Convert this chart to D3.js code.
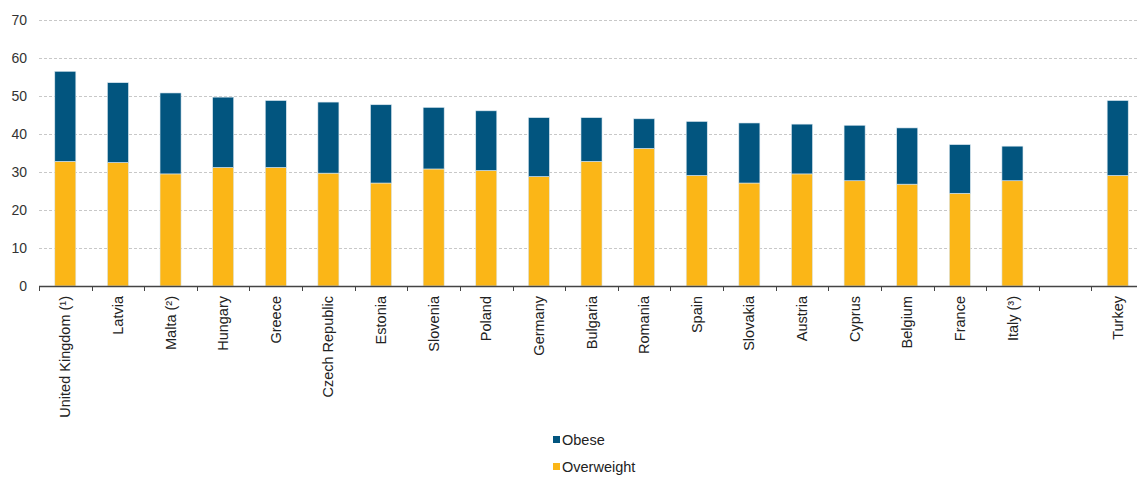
<!DOCTYPE html>
<html>
<head>
<meta charset="utf-8">
<script src="https://cdn.jsdelivr.net/npm/d3@7/dist/d3.min.js"></script>
<style>
  html, body { margin: 0; padding: 0; background: #fff; }
  svg { display: block; font-family: "Liberation Sans", Arial, sans-serif; }
</style>
</head>
<body>
<svg id="chart" width="1137" height="477"></svg>
<script>
// Share of adults by body mass index category (%)
const categories = [
  "United Kingdom (¹)", "Latvia", "Malta (²)", "Hungary", "Greece", "Czech Republic",
  "Estonia", "Slovenia", "Poland", "Germany", "Bulgaria", "Romania", "Spain",
  "Slovakia", "Austria", "Cyprus", "Belgium", "France", "Italy (³)", "", "Turkey"
];
const overweight = [32.8, 32.5, 29.5, 31.2, 31.2, 29.7, 27.1, 30.8, 30.4, 28.8, 32.8, 36.2, 29.1,
                    27.1, 29.5, 27.7, 26.8, 24.4, 27.7, null, 29.1];
const obese      = [23.7, 21.0, 21.3, 18.5, 17.6, 18.7, 20.6, 16.2, 15.7, 15.5, 11.5,  7.8, 14.2,
                    15.8, 13.1, 14.6, 14.8, 12.8,  9.1, null, 19.7];
const yTicks = [0, 10, 20, 30, 40, 50, 60, 70];
const seriesNames = ["Obese", "Overweight"];
const colors = { Obese: "#02557f", Overweight: "#fbb617" };

const svg = d3.select("#chart");
const margin = { left: 39, top: 20, bottom: 191 };
const plotRight = 1144;
const height = 477;

const x = d3.scaleBand()
  .domain(d3.range(categories.length))
  .range([margin.left, plotRight])
  .paddingInner(0).paddingOuter(0);

const y = d3.scaleLinear()
  .domain([0, 70])
  .range([height - margin.bottom, margin.top]);

// Horizontal grid lines
svg.append("g")
  .selectAll("line")
  .data(yTicks.filter(d => d > 0))
  .join("line")
  .attr("x1", margin.left)
  .attr("x2", plotRight)
  .attr("y1", d => Math.round(y(d)) + 0.5)
  .attr("y2", d => Math.round(y(d)) + 0.5)
  .attr("stroke", "#c8c8c8")
  .attr("stroke-width", 1)
  .attr("stroke-dasharray", "3,2");

// Y axis labels
const yAxis = d3.axisLeft(y).tickValues(yTicks).tickSize(0).tickPadding(12);
const yg = svg.append("g").attr("transform", `translate(${margin.left},0)`).call(yAxis);
yg.select(".domain").remove();
yg.selectAll("text").attr("font-size", 14).attr("fill", "#333")
  .attr("font-family", "Liberation Sans, Arial, sans-serif");

// Stacked bars
const rows = categories.map((c, i) => ({ i, Overweight: overweight[i], Obese: obese[i] }))
  .filter(d => d.Overweight != null);
const stack = d3.stack().keys(["Overweight", "Obese"]);
const stacked = stack(rows);
const barW = x.bandwidth() * 0.4;

svg.append("g")
  .selectAll("g")
  .data(stacked)
  .join("g")
  .attr("fill", s => colors[s.key])
  .selectAll("rect")
  .data(s => s)
  .join("rect")
  .attr("x", d => x(d.data.i) + (x.bandwidth() - barW) / 2)
  .attr("width", barW)
  .attr("y", d => y(d[1]))
  .attr("height", d => y(d[0]) - y(d[1]))
  .attr("stroke", "#dbe8f0")
  .attr("stroke-width", 0.6);

// X axis with boundary ticks
const baseY = y(0);
const xg = svg.append("g");
xg.append("line")
  .attr("x1", margin.left).attr("x2", plotRight)
  .attr("y1", baseY + 0.5).attr("y2", baseY + 0.5)
  .attr("stroke", "#444").attr("stroke-width", 1.3);
xg.selectAll("line.tick")
  .data(d3.range(categories.length + 1))
  .join("line")
  .attr("class", "tick")
  .attr("x1", i => Math.round(margin.left + i * x.step()) + 0.5)
  .attr("x2", i => Math.round(margin.left + i * x.step()) + 0.5)
  .attr("y1", baseY)
  .attr("y2", baseY + 5)
  .attr("stroke", "#444");

xg.selectAll("text")
  .data(categories.map((c, i) => ({ c, i })).filter(d => d.c))
  .join("text")
  .attr("transform", d => `translate(${x(d.i) + x.bandwidth() / 2},${baseY + 10}) rotate(-90)`)
  .attr("text-anchor", "end")
  .attr("dy", "0.35em")
  .attr("font-size", 14.5)
  .attr("fill", "#222")
  .text(d => d.c);

// Legend
const legend = svg.append("g").attr("transform", "translate(553,0)");
const legendY = [440, 467];
seriesNames.forEach((name, k) => {
  legend.append("rect")
    .attr("x", 0).attr("y", legendY[k] - 4)
    .attr("width", 7).attr("height", 7)
    .attr("fill", colors[name]);
  legend.append("text")
    .attr("x", 9).attr("y", legendY[k])
    .attr("dy", "0.35em")
    .attr("font-size", 14.5)
    .attr("fill", "#222")
    .text(name);
});
</script>
</body>
</html>
